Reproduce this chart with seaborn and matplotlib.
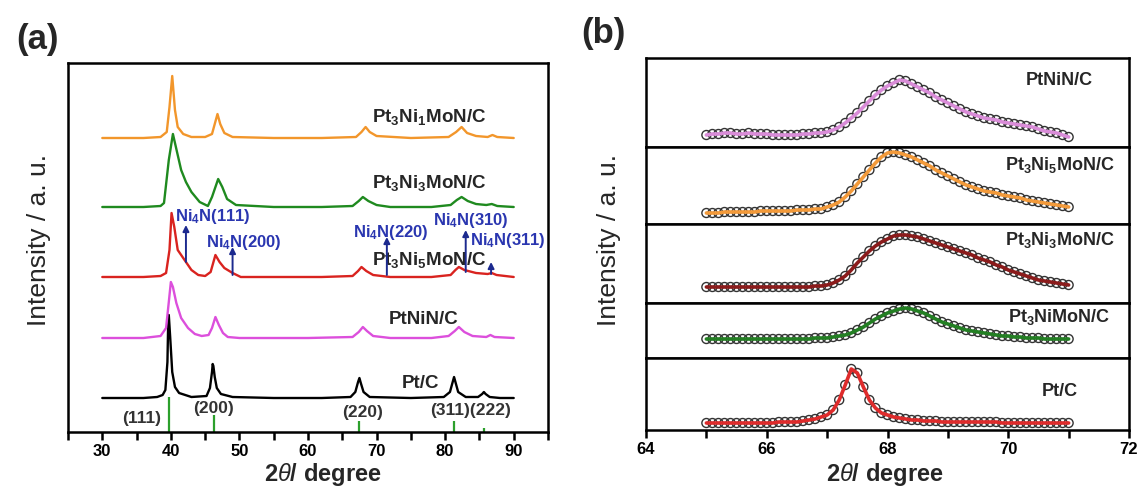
import numpy as np
import matplotlib
matplotlib.use("Agg")
import matplotlib.pyplot as plt
import matplotlib.ticker as mticker
import seaborn as sns

sns.set_theme(style="white")
plt.rcParams["font.family"] = ["Liberation Sans", "DejaVu Sans"]
plt.rcParams["mathtext.fontset"] = "custom"
plt.rcParams["mathtext.rm"] = "Liberation Sans"
plt.rcParams["mathtext.it"] = "Liberation Sans:italic"
plt.rcParams["mathtext.bf"] = "Liberation Sans:bold"

# ============ data: panel (a) XRD patterns (offset intensity, a.u.) ============
pt_x = [30, 36, 38, 38.8, 39.2, 39.5, 39.6, 39.7, 39.9, 40.2, 40.6, 41.2, 43, 45.2, 45.7,
        46.0, 46.1, 46.2, 46.4, 46.7, 47.3, 49, 55, 62, 66.2, 66.9, 67.3, 67.5, 67.7, 68.1,
        69, 75, 79.8, 80.7, 81.1, 81.3, 81.5, 81.9, 83, 84.8, 85.4, 85.65, 85.9, 86.5, 88, 90]
pt_y = [34, 34, 35, 37, 42, 70, 105, 117, 95, 60, 45, 39, 35, 36, 44,
        60, 68, 66, 55, 44, 38, 35, 34, 34, 35, 40, 50, 54, 49, 40,
        35, 34, 35, 40, 50, 55, 50, 40, 35, 35, 38, 40, 38, 35, 34, 34]

ptnin_x = [30, 36, 38.5, 39.3, 39.7, 40.0, 40.3, 40.8, 41.5, 42.5, 43.5, 44.5, 45.5, 46.0,
           46.5, 47.0, 47.6, 48.3, 50, 60, 66.5, 67.4, 68.0, 68.6, 69.5, 72, 78, 80.5, 81.4,
           82.0, 82.8, 84, 86.0, 86.6, 87.2, 90]
ptnin_y = [94, 94, 96, 104, 130, 150, 145, 129, 114, 104, 98, 96, 97, 104,
           115, 107, 99, 95, 94, 94, 95, 100, 105, 101, 96, 94, 94, 96, 101,
           105, 100, 96, 95, 97, 95, 94]

ni5_x = [30, 36, 38.5, 39.3, 39.8, 40.1, 40.5, 41.0, 42.0, 43.0, 44.0, 45.0, 45.8, 46.5,
         47.1, 47.8, 49.0, 50.2, 55, 62, 66.5, 67.3, 67.8, 68.5, 69.5, 72, 78, 80.8, 81.5,
         82.0, 82.8, 84.5, 86.2, 86.8, 87.5, 90]
ni5_y = [155, 155, 156, 159, 182, 219, 205, 182, 172, 162, 157, 156, 160, 177,
         170, 164, 159, 155, 155, 155, 156, 161, 165, 161, 157, 155, 155, 157, 162,
         165, 162, 159, 158, 159, 157, 155]

ni3_x = [30, 36, 38.5, 39.0, 39.7, 40.3, 40.8, 41.5, 42.2, 43.0, 44.2, 45.4, 46.0, 46.9,
         47.5, 48.2, 49.5, 55, 62, 66.5, 67.4, 68.0, 68.8, 70, 72, 78, 80.8, 81.7, 82.4,
         83.3, 84.5, 86.0, 86.8, 87.6, 90]
ni3_y = [225, 225, 226, 229, 272, 298, 283, 262, 250, 240, 230, 226, 235, 253,
         245, 233, 227, 225, 225, 226, 231, 235, 231, 227, 225, 225, 227, 232, 235,
         231, 228, 227, 228, 226, 225]

ni1_x = [30, 36, 38.5, 39.4, 39.8, 40.2, 40.6, 41.0, 41.8, 43, 45, 46.0, 46.4, 46.8,
         47.2, 47.8, 49, 55, 62, 67.0, 67.8, 68.4, 69.0, 70, 75, 80.5, 81.6, 82.4,
         83.2, 84.5, 86.2, 86.9, 87.6, 90]
ni1_y = [294, 294, 295, 300, 325, 356, 322, 305, 298, 295, 295, 298, 308, 318,
         308, 299, 295, 294, 294, 295, 300, 305, 300, 296, 294, 295, 300, 305,
         299, 296, 295, 297, 295, 294]

a_series = [
    (pt_x, pt_y, "black", "Pt/C", 76.4, 49),
    (ptnin_x, ptnin_y, "#dc4fdc", "PtNiN/C", 76.8, 112),
    (ni5_x, ni5_y, "#d9231f", r"Pt$_\mathbf{3}$Ni$_\mathbf{5}$MoN/C", 77.6, 172),
    (ni3_x, ni3_y, "#1f8a1f", r"Pt$_\mathbf{3}$Ni$_\mathbf{3}$MoN/C", 77.6, 249),
    (ni1_x, ni1_y, "#f2962b", r"Pt$_\mathbf{3}$Ni$_\mathbf{1}$MoN/C", 77.6, 315),
]

# Pt reference pattern (green sticks)
ref_pos = [39.76, 46.24, 67.45, 81.29, 85.71]
ref_top = [35, 17, 11, 11, 4]
hkl_text = ["(111)", "(200)", "(220)", "(311)(222)"]
hkl_x = [35.8, 46.2, 68.0, 83.7]
hkl_y = [14, 23, 20, 22]

# Ni4N reflections marked on the Pt3Ni5MoN/C pattern
ni4n_pos = [42.2, 49.0, 71.5, 83.0, 86.7]
ni4n_low = [170, 157, 157, 160, 158]
ni4n_high = [207, 185, 195, 202, 170]
ni4n_text = ["Ni$_\\mathbf{4}$N(111)", "Ni$_\\mathbf{4}$N(200)", "Ni$_\\mathbf{4}$N(220)",
             "Ni$_\\mathbf{4}$N(310)", "Ni$_\\mathbf{4}$N(311)"]
ni4n_tx = [40.6, 45.1, 66.5, 78.3, 83.6]
ni4n_ty = [215, 190, 200, 212, 192]

a_xticks = [30, 40, 50, 60, 70, 80, 90]

# ============ data: panel (b) (220) region, step 0.1 deg from 65 to 71 ============
b_x = np.round(np.arange(65.0, 71.05, 0.1), 1)
b_ptnin = [12, 13, 13, 14, 14, 13, 13, 14, 13, 13,
           13, 12, 12, 12, 12, 12, 13, 13, 14, 14,
           15, 17, 20, 24, 29, 34, 40, 46, 52, 57,
           61, 64, 67, 66, 63, 60, 57, 54, 50, 47,
           44, 41, 38, 35, 33, 31, 29, 28, 27, 25,
           24, 23, 22, 21, 20, 18, 16, 15, 14, 12, 10]
b_ni5 = [11, 11, 11, 12, 12, 12, 12, 12, 12, 13,
         13, 13, 13, 13, 13, 14, 14, 14, 15, 15,
         17, 19, 22, 27, 33, 40, 47, 54, 61, 67,
         71, 72, 71, 69, 67, 64, 61, 58, 54, 51,
         48, 45, 42, 39, 37, 35, 33, 32, 31, 29,
         28, 27, 26, 24, 23, 22, 21, 20, 19, 18, 17]
b_ni3 = [16, 16, 16, 16, 16, 16, 16, 16, 16, 16,
         16, 16, 16, 16, 16, 16, 16, 16, 17, 17,
         18, 20, 23, 27, 33, 40, 46, 52, 57, 61,
         64, 67, 68, 68, 67, 66, 64, 62, 60, 58,
         56, 54, 52, 50, 48, 45, 43, 41, 38, 36,
         33, 31, 29, 27, 25, 23, 22, 21, 20, 19, 18]
b_ni1 = [19, 19, 19, 19, 19, 19, 19, 19, 19, 19,
         19, 19, 19, 19, 19, 19, 19, 19, 20, 20,
         20, 21, 22, 23, 25, 28, 31, 35, 39, 42,
         45, 47, 49, 50, 49, 47, 45, 42, 39, 36,
         34, 32, 30, 28, 27, 26, 25, 24, 23, 22,
         22, 21, 21, 20, 20, 20, 19, 19, 19, 19, 19]
b_pt = [7, 7, 7, 7, 7, 7, 7, 7, 7, 7,
        7, 7, 8, 8, 8, 8, 9, 10, 11, 13,
        15, 20, 30, 45, 61, 57, 43, 30, 22, 17,
        15, 13, 12, 11, 10, 10, 9, 9, 9, 8,
        8, 8, 8, 8, 8, 8, 8, 8, 8, 7,
        7, 7, 7, 7, 7, 7, 7, 7, 7, 7, 7]

b_series = [
    (b_ptnin, "#d98cd8", "PtNiN/C", 89, 67),
    (b_ni5, "#f39a3a", r"Pt$_\mathbf{3}$Ni$_\mathbf{5}$MoN/C", 77, 59),
    (b_ni3, "#8b1b1b", r"Pt$_\mathbf{3}$Ni$_\mathbf{3}$MoN/C", 79, 63),
    (b_ni1, "#237f23", r"Pt$_\mathbf{3}$NiMoN/C", 55, 41),
    (b_pt, "#de2b2b", "Pt/C", 72, 38),
]
b_bounds = [58, 147, 224, 303, 358, 430]
b_xticks = [64, 66, 68, 70, 72]

# ============ figure ============
W, H = 1138, 488
fig = plt.figure(figsize=(W / 100, H / 100), dpi=100)


def px_axes(left, top, right, bottom):
    return fig.add_axes([left / W, 1 - bottom / H, (right - left) / W, (bottom - top) / H])


def style_spines(ax, lw=1.8):
    for s in ax.spines.values():
        s.set_visible(True)
        s.set_linewidth(lw)
        s.set_color("black")


# ---- (a) ----
axa = px_axes(68, 63, 548, 432)
for xs, ys, col, lab, lx, ly in a_series:
    sns.lineplot(x=xs, y=ys, ax=axa, color=col, lw=1.7, errorbar=None)
    axa.text(lx, ly, lab, ha="center", va="center", fontsize=13.5, fontweight="bold")

axa.vlines(ref_pos, 0, ref_top, color="#2ca02c", lw=1.6)
for t, x, y in zip(hkl_text, hkl_x, hkl_y):
    axa.text(x, y, t, ha="center", va="center", fontsize=12.5, fontweight="bold", color="#333333")

for x, y0, y1 in zip(ni4n_pos, ni4n_low, ni4n_high):
    axa.annotate("", xy=(x, y1), xytext=(x, y0),
                 arrowprops=dict(arrowstyle="-|>", color="#1c2a8f", lw=1.4,
                                 mutation_scale=9, shrinkA=0, shrinkB=0))
for t, x, y in zip(ni4n_text, ni4n_tx, ni4n_ty):
    axa.text(x, y, t, ha="left", va="center", fontsize=12, fontweight="bold", color="#2a36b0")

axa.set_xlim(25, 95)
axa.set_ylim(0, 369)
axa.set_yticks([])
axa.set_xticks(a_xticks)
axa.set_xticklabels([str(v) for v in a_xticks], fontweight="bold")
axa.xaxis.set_minor_locator(mticker.MultipleLocator(5))
axa.tick_params(axis="x", which="both", bottom=True, direction="out", length=6,
                width=1.8, labelsize=12, pad=3, colors="black")
axa.set_xlabel("")
axa.set_ylabel("")
style_spines(axa)

# ---- (b) ----
n = len(b_series)
for i, (vals, col, lab, h, ly) in enumerate(b_series):
    ax = px_axes(646, b_bounds[i], 1129, b_bounds[i + 1])
    sns.scatterplot(x=b_x, y=vals, ax=ax, marker="o", s=42, facecolor="none",
                    edgecolor="#333333", linewidth=1.0, zorder=2)
    sns.lineplot(x=b_x, y=vals, ax=ax, color=col, lw=2.6, errorbar=None, zorder=3)
    ax.text(70.85, ly, lab, ha="center", va="center", fontsize=13, fontweight="bold")
    ax.set_xlim(64, 72)
    ax.set_ylim(0, h)
    ax.set_yticks([])
    ax.set_xlabel("")
    ax.set_ylabel("")
    style_spines(ax)
    if i == n - 1:
        ax.set_xticks(b_xticks)
        ax.set_xticklabels([str(v) for v in b_xticks], fontweight="bold")
        ax.xaxis.set_minor_locator(mticker.MultipleLocator(1))
        ax.tick_params(axis="x", which="both", bottom=True, direction="out", length=6,
                       width=1.8, labelsize=12, pad=3, colors="black")
    else:
        ax.set_xticks([])

# ---- labels ----
fig.text(16 / W, 1 - 40 / H, "(a)", ha="left", va="center", fontsize=25, fontweight="bold")
fig.text(581 / W, 1 - 33 / H, "(b)", ha="left", va="center", fontsize=25, fontweight="bold")
fig.text(39 / W, 1 - 240 / H, "Intensity / a. u.", rotation=90, ha="center", va="center", fontsize=19)
fig.text(609 / W, 1 - 240 / H, "Intensity / a. u.", rotation=90, ha="center", va="center", fontsize=19)
fig.text(323 / W, 1 - 474 / H, r"2$\theta$/ degree", ha="center", va="center", fontsize=17, fontweight="bold")
fig.text(885 / W, 1 - 474 / H, r"2$\theta$/ degree", ha="center", va="center", fontsize=17, fontweight="bold")

fig.savefig("out.png", dpi=100)
plt.close(fig)
